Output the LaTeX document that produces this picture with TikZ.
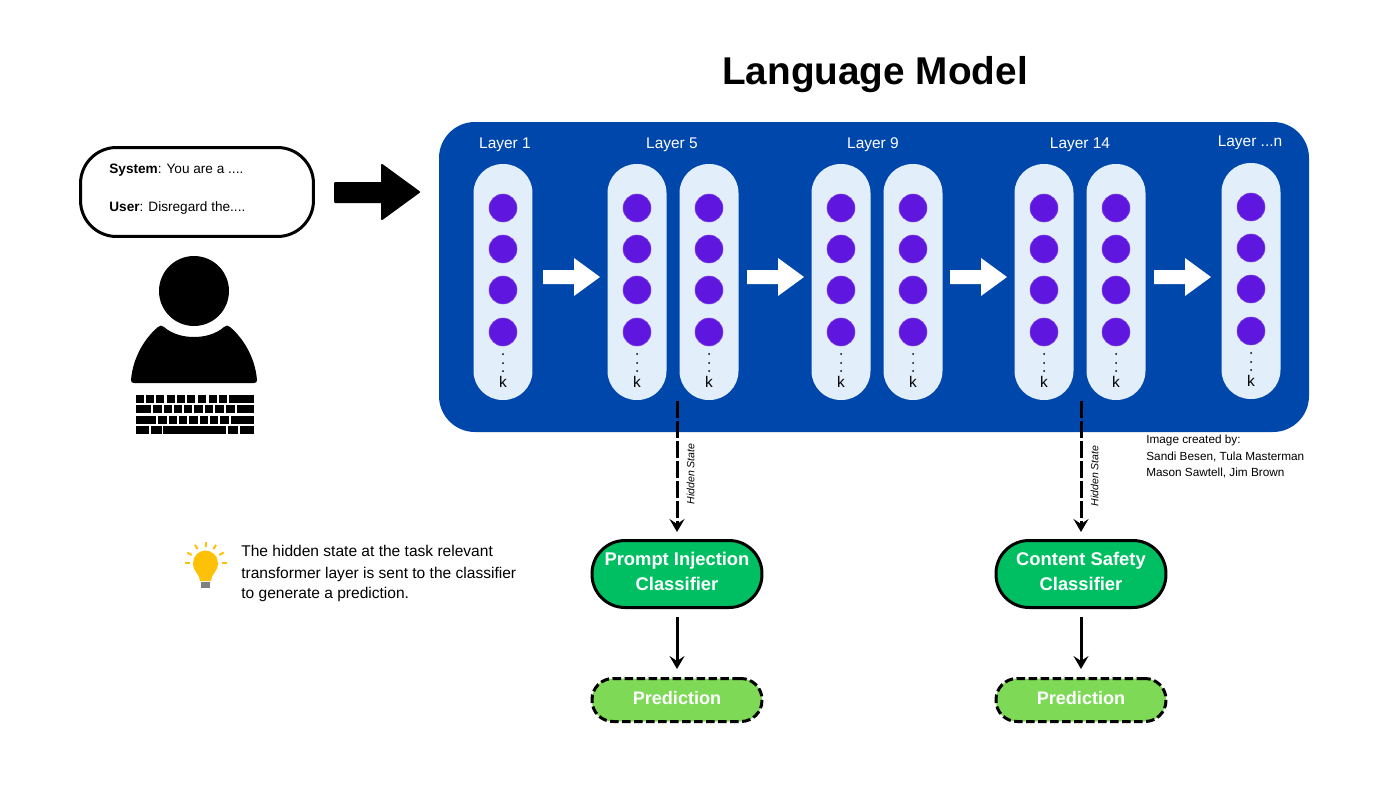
\documentclass[tikz,border=0pt]{standalone}
\usepackage{fontspec}
\setmainfont{Liberation Sans}
\usetikzlibrary{arrows.meta}

\definecolor{panelblue}{HTML}{0047AB}
\definecolor{pillblue}{HTML}{E3EEFB}
\definecolor{unitviolet}{HTML}{5F17E0}
\definecolor{classgreen}{HTML}{00BF63}
\definecolor{predgreen}{HTML}{7ED957}
\definecolor{bulbyellow}{HTML}{FFC107}

\tikzset{
  pill/.style={fill=pillblue,minimum width=1.18cm,minimum height=4.72cm,rounded corners=.58cm,inner sep=0pt},
  unit/.style={circle,fill=unitviolet,draw=unitviolet!80!white,line width=.3pt,minimum size=.56cm,inner sep=0pt},
  layerlabel/.style={text=white,font=\fontsize{8.8}{10}\selectfont},
  classbox/.style={draw=black,line width=.06cm,fill=classgreen,minimum width=3.4cm,minimum height=1.34cm,rounded corners=.66cm,inner sep=0pt},
  classlabel/.style={text=white,align=center,inner sep=0pt,font=\fontsize{10.45}{14.2}\selectfont\bfseries},
  predbox/.style={draw=black,line width=.06cm,dash pattern=on .17cm off .07cm,fill=predgreen,text=white,minimum width=3.4cm,minimum height=.86cm,rounded corners=.42cm,inner sep=0pt,text height=.26cm,text depth=.1cm,font=\fontsize{10.3}{12}\selectfont\bfseries},
  link/.style={line width=.06cm,-{Stealth[length=.26cm,width=.3cm,inset=.1cm]}},
  note/.style={anchor=base west,inner sep=0pt},
}

\begin{document}
\begin{tikzpicture}[x=.02cm,y=-.02cm]
\useasboundingbox (0,0) rectangle (1400,788);

\node (title) at (875,74.5) {\fontsize{22.05}{24}\selectfont\bfseries Language Model};

% prompt box and user
\node[draw=black,line width=.06cm,fill=white,minimum width=4.66cm,minimum height=1.78cm,rounded corners=.72cm] (prompt) at (197,192) {};
\node[note,font=\fontsize{7.75}{10}\selectfont] (systemtxt) at (109,173) {\textbf{System}: You are a ....};
\node[note,font=\fontsize{7.75}{10}\selectfont] (usertxt) at (109,211) {\textbf{User}: Disregard the....};
\draw[line width=.04cm,line join=round,fill=black] (335,183) -- (382,183) -- (382,165) -- (419,192) -- (382,219) -- (382,202) -- (335,202) -- cycle;

\fill (194,291) circle [radius=35];
\fill (134,383) .. controls (132,383) and (131,382) .. (131,380)
  .. controls (133,356) and (146,337) .. (158,327)
  .. controls (160,325) and (162,325) .. (164,327)
  .. controls (172,334) and (183,337) .. (194,337)
  .. controls (205,337) and (216,334) .. (224,327)
  .. controls (226,325) and (228,325) .. (230,327)
  .. controls (242,337) and (255,356) .. (257,380)
  .. controls (257,382) and (256,383) .. (254,383) -- cycle;

% keyboard
\foreach \y/\keys in {395/{136/143,146/153,156/163,167/174,177/184,187/194,198/205,209/216,219/226,229/253},
  405.3/{136/150,153/161,164/171,174/181,184/191,194/202,205/212,215/223,226/234,237/253},
  415.7/{136/155,158/166,169/176,179/186,189/197,200/207,210/217,220/228,231/253},
  426/{136/148,151/161,163/225,228/237,240/253}} {
  \foreach \a/\b in \keys {
    \fill (\a,\y) rectangle (\b+.7,\y+8);
  }
}

% language model panel
\fill[panelblue,rounded corners=.72cm] (439,122) rectangle (1309,432);

\foreach \name/\cx/\cy in {la/503/282,lb/637/282,lc/709/282,ld/841/282,le/913/282,lf/1044/282,lg/1116/282,lh/1251/281} {
  \node[pill] (\name) at (\cx,\cy) {};
  \foreach \i/\dy in {1/-74,2/-33,3/8,4/50} {
    \node[unit] (\name-\i) at (\cx,\cy+\dy) {};
  }
  \foreach \dy in {72,81,89} {
    \fill (\cx,\cy+\dy) circle [radius=1];
  }
  \node[font=\fontsize{8.8}{10}\selectfont] (\name-k) at (\cx,\cy+100) {k};
}

\node[layerlabel] (layera) at (505,145) {Layer 1};
\node[layerlabel] (layerb) at (672,145) {Layer 5};
\node[layerlabel] (layerc) at (873,145) {Layer 9};
\node[layerlabel] (layerd) at (1080,145) {Layer 14};
\node[layerlabel] (layere) at (1250,143) {Layer ...n};

\foreach \dx in {0,204,407,611} {
  \begin{scope}[xshift=\dx*.02cm]
    \fill[white] (543,270) -- (574,270) -- (574,258) -- (600,277) -- (574,296) -- (574,284) -- (543,284) -- cycle;
  \end{scope}
}

% classifiers
\node[classbox] (injection) at (677,574) {};
\node[classbox] (safety) at (1081,574) {};
\node[classlabel] (injectiontxt) at (677,571) {Prompt Injection\\Classifier};
\node[classlabel] (safetytxt) at (1081,571) {Content Safety\\Classifier};
\node[predbox] (predictiona) at (677,700) {Prediction};
\node[predbox] (predictionb) at (1081,700) {Prediction};

\coordinate (tapa) at (677,401);
\coordinate (tapb) at (1081,401);

\draw[link,dash pattern=on .34cm off .06cm,shorten >=.14cm] (tapa) -- (injection.north);
\draw[link,dash pattern=on .34cm off .06cm,shorten >=.14cm] (tapb) -- (safety.north);
\draw[link,shorten <=.16cm,shorten >=.16cm] (injection.south) -- (predictiona.north);
\draw[link,shorten <=.16cm,shorten >=.16cm] (safety.south) -- (predictionb.north);

\node[rotate=90,font=\fontsize{6}{7}\selectfont\itshape] (hiddena) at (690.5,474) {Hidden State};
\node[rotate=90,font=\fontsize{6}{7}\selectfont\itshape] (hiddenb) at (1094.5,476) {Hidden State};

\node[note,font=\fontsize{6.7}{8}\selectfont] (creda) at (1146,443) {Image created by:};
\node[note,font=\fontsize{6.7}{8}\selectfont] (credb) at (1146,460) {Sandi Besen, Tula Masterman};
\node[note,font=\fontsize{6.7}{8}\selectfont] (credc) at (1146,476) {Mason Sawtell, Jim Brown};

% light bulb
\fill[bulbyellow] (200,581) .. controls (200,574) and (193,572) .. (193,563) arc [radius=12.5, start angle=180, end angle=360]
  .. controls (218,572) and (211,574) .. (211,581) -- cycle;
\fill[gray] (201,582) rectangle (210,588);
\foreach \a in {0,30,60,90,120,150,180} {
  \draw[bulbyellow,line width=.04cm] ({205.5+16*cos(\a)},{563-16*sin(\a)}) -- ({205.5+21*cos(\a)},{563-21*sin(\a)});
}

\node[note,font=\fontsize{8.85}{10}\selectfont] (tipa) at (241,556) {The hidden state at the task relevant};
\node[note,font=\fontsize{8.85}{10}\selectfont] (tipb) at (241,578) {transformer layer is sent to the classifier};
\node[note,font=\fontsize{8.85}{10}\selectfont] (tipc) at (241,598) {to generate a prediction.};
\end{tikzpicture}
\end{document}
